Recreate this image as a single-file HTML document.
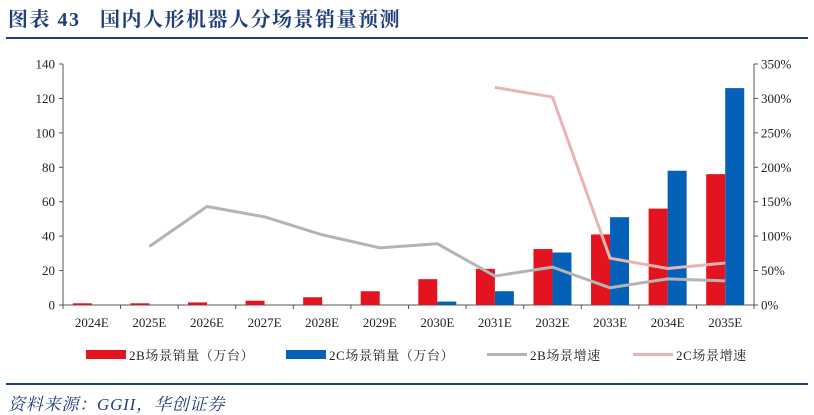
<!DOCTYPE html>
<html><head><meta charset="utf-8"><style>
body{margin:0;width:814px;height:415px;background:#fff;overflow:hidden;font-family:"Liberation Serif","Noto Serif CJK SC",serif;}
#title{position:absolute;left:8px;top:3px;font-size:20px;letter-spacing:1.5px;font-weight:bold;color:#1f3f7a;white-space:pre;}
.rule{position:absolute;left:6px;width:802px;height:2px;background:#1f3f7a;}
#src{position:absolute;left:8px;top:390px;font-size:17px;letter-spacing:0.8px;font-style:italic;color:#1f3f7a;}
</style></head><body>
<div id="title">图表 43   国内人形机器人分场景销量预测</div>
<div class="rule" style="top:37px"></div>
<svg id="c" width="814" height="415" style="position:absolute;left:0;top:0"></svg>
<div class="rule" style="top:383px"></div>
<div id="src">资料来源：GGII，华创证券</div>
<script>
const categories=["2024E","2025E","2026E","2027E","2028E","2029E","2030E","2031E","2032E","2033E","2034E","2035E"];
const sales2B=[1,1,1.5,2.5,4.5,8,15,21,32.5,41,56,76];
const sales2C=[0,0,0,0,0,0,2,8,30.5,51,78,126];
const growth2B=[null,85,143,128,102,83,89,42,55,25,38,35];
const growth2C=[null,null,null,null,null,null,null,316,302,68,53,61];
const leftTicks=[0,20,40,60,80,100,120,140];
const rightTicks=[0,50,100,150,200,250,300,350];
const NS="http://www.w3.org/2000/svg";
const svg=document.getElementById('c');
const x0=63,x1=754,y0=305,y1=64;
const step=(x1-x0)/categories.length;
const cx=i=>x0+step*(i+0.5);
const yL=v=>y0-(v/140)*(y0-y1);
const yR=v=>y0-(v/350)*(y0-y1);
function mk(t,a){const e=document.createElementNS(NS,t);for(const k in a)e.setAttribute(k,a[k]);svg.appendChild(e);return e;}
let e=mk('line',{x1:x0,y1:y1,x2:x0,y2:y0,stroke:'#555','stroke-width':1});

e=mk('line',{x1:x1,y1:y1,x2:x1,y2:y0,stroke:'#555','stroke-width':1});

e=mk('line',{x1:x0,y1:y0,x2:x1,y2:y0,stroke:'#555','stroke-width':1});

leftTicks.forEach(v=>{mk('line',{x1:x0-4,y1:yL(v),x2:x0,y2:yL(v),stroke:'#555'});
 const t=mk('text',{x:x0-8,y:yL(v)+4.5,'text-anchor':'end','font-size':13,fill:'#222'});t.textContent=v;
 });
rightTicks.forEach(v=>{mk('line',{x1:x1,y1:yR(v),x2:x1+4,y2:yR(v),stroke:'#555'});
 const t=mk('text',{x:x1+7,y:yR(v)+4.5,'font-size':13,fill:'#222'});t.textContent=v+'%';
 });
for(let i=0;i<=categories.length;i++)mk('line',{x1:x0+step*i,y1:y0,x2:x0+step*i,y2:y0+4,stroke:'#555'});
categories.forEach((c,i)=>{const t=mk('text',{x:cx(i),y:y0+22,'text-anchor':'middle','font-size':13,fill:'#222'});t.textContent=c;
 });
const bw=19;
categories.forEach((c,i)=>{
 if(sales2B[i]>0){const r=mk('rect',{x:cx(i)-bw,y:yL(sales2B[i]),width:bw,height:y0-yL(sales2B[i]),fill:'#e3141f'});
  }
 if(sales2C[i]>0){const r=mk('rect',{x:cx(i),y:yL(sales2C[i]),width:bw,height:y0-yL(sales2C[i]),fill:'#0561b8'});
  }
});
function line(arr,color,name){const pts=[];arr.forEach((v,i)=>{if(v!==null)pts.push(cx(i)+','+yR(v));});
 const p=mk('polyline',{points:pts.join(' '),fill:'none',stroke:color,'stroke-width':3,'stroke-linejoin':'round'});
 }
line(growth2B,'#b4b4b4','line-2b-growth');
line(growth2C,'#eab3b5','line-2c-growth');
const leg=[['rect','#e3141f','2B场景销量（万台）',86],['rect','#0561b8','2C场景销量（万台）',286],['line','#b4b4b4','2B场景增速',487],['line','#eab3b5','2C场景增速',633]];
leg.forEach(l=>{
 const g=l[0]=='rect'?mk('rect',{x:l[3],y:350,width:40,height:9,fill:l[1]}):mk('rect',{x:l[3],y:353,width:40,height:3,fill:l[1]});
 
 const t=mk('text',{x:l[3]+43,y:360,'font-size':13,fill:'#222','letter-spacing':'0.6'});t.textContent=l[2];
 
});
</script>
</body></html>
